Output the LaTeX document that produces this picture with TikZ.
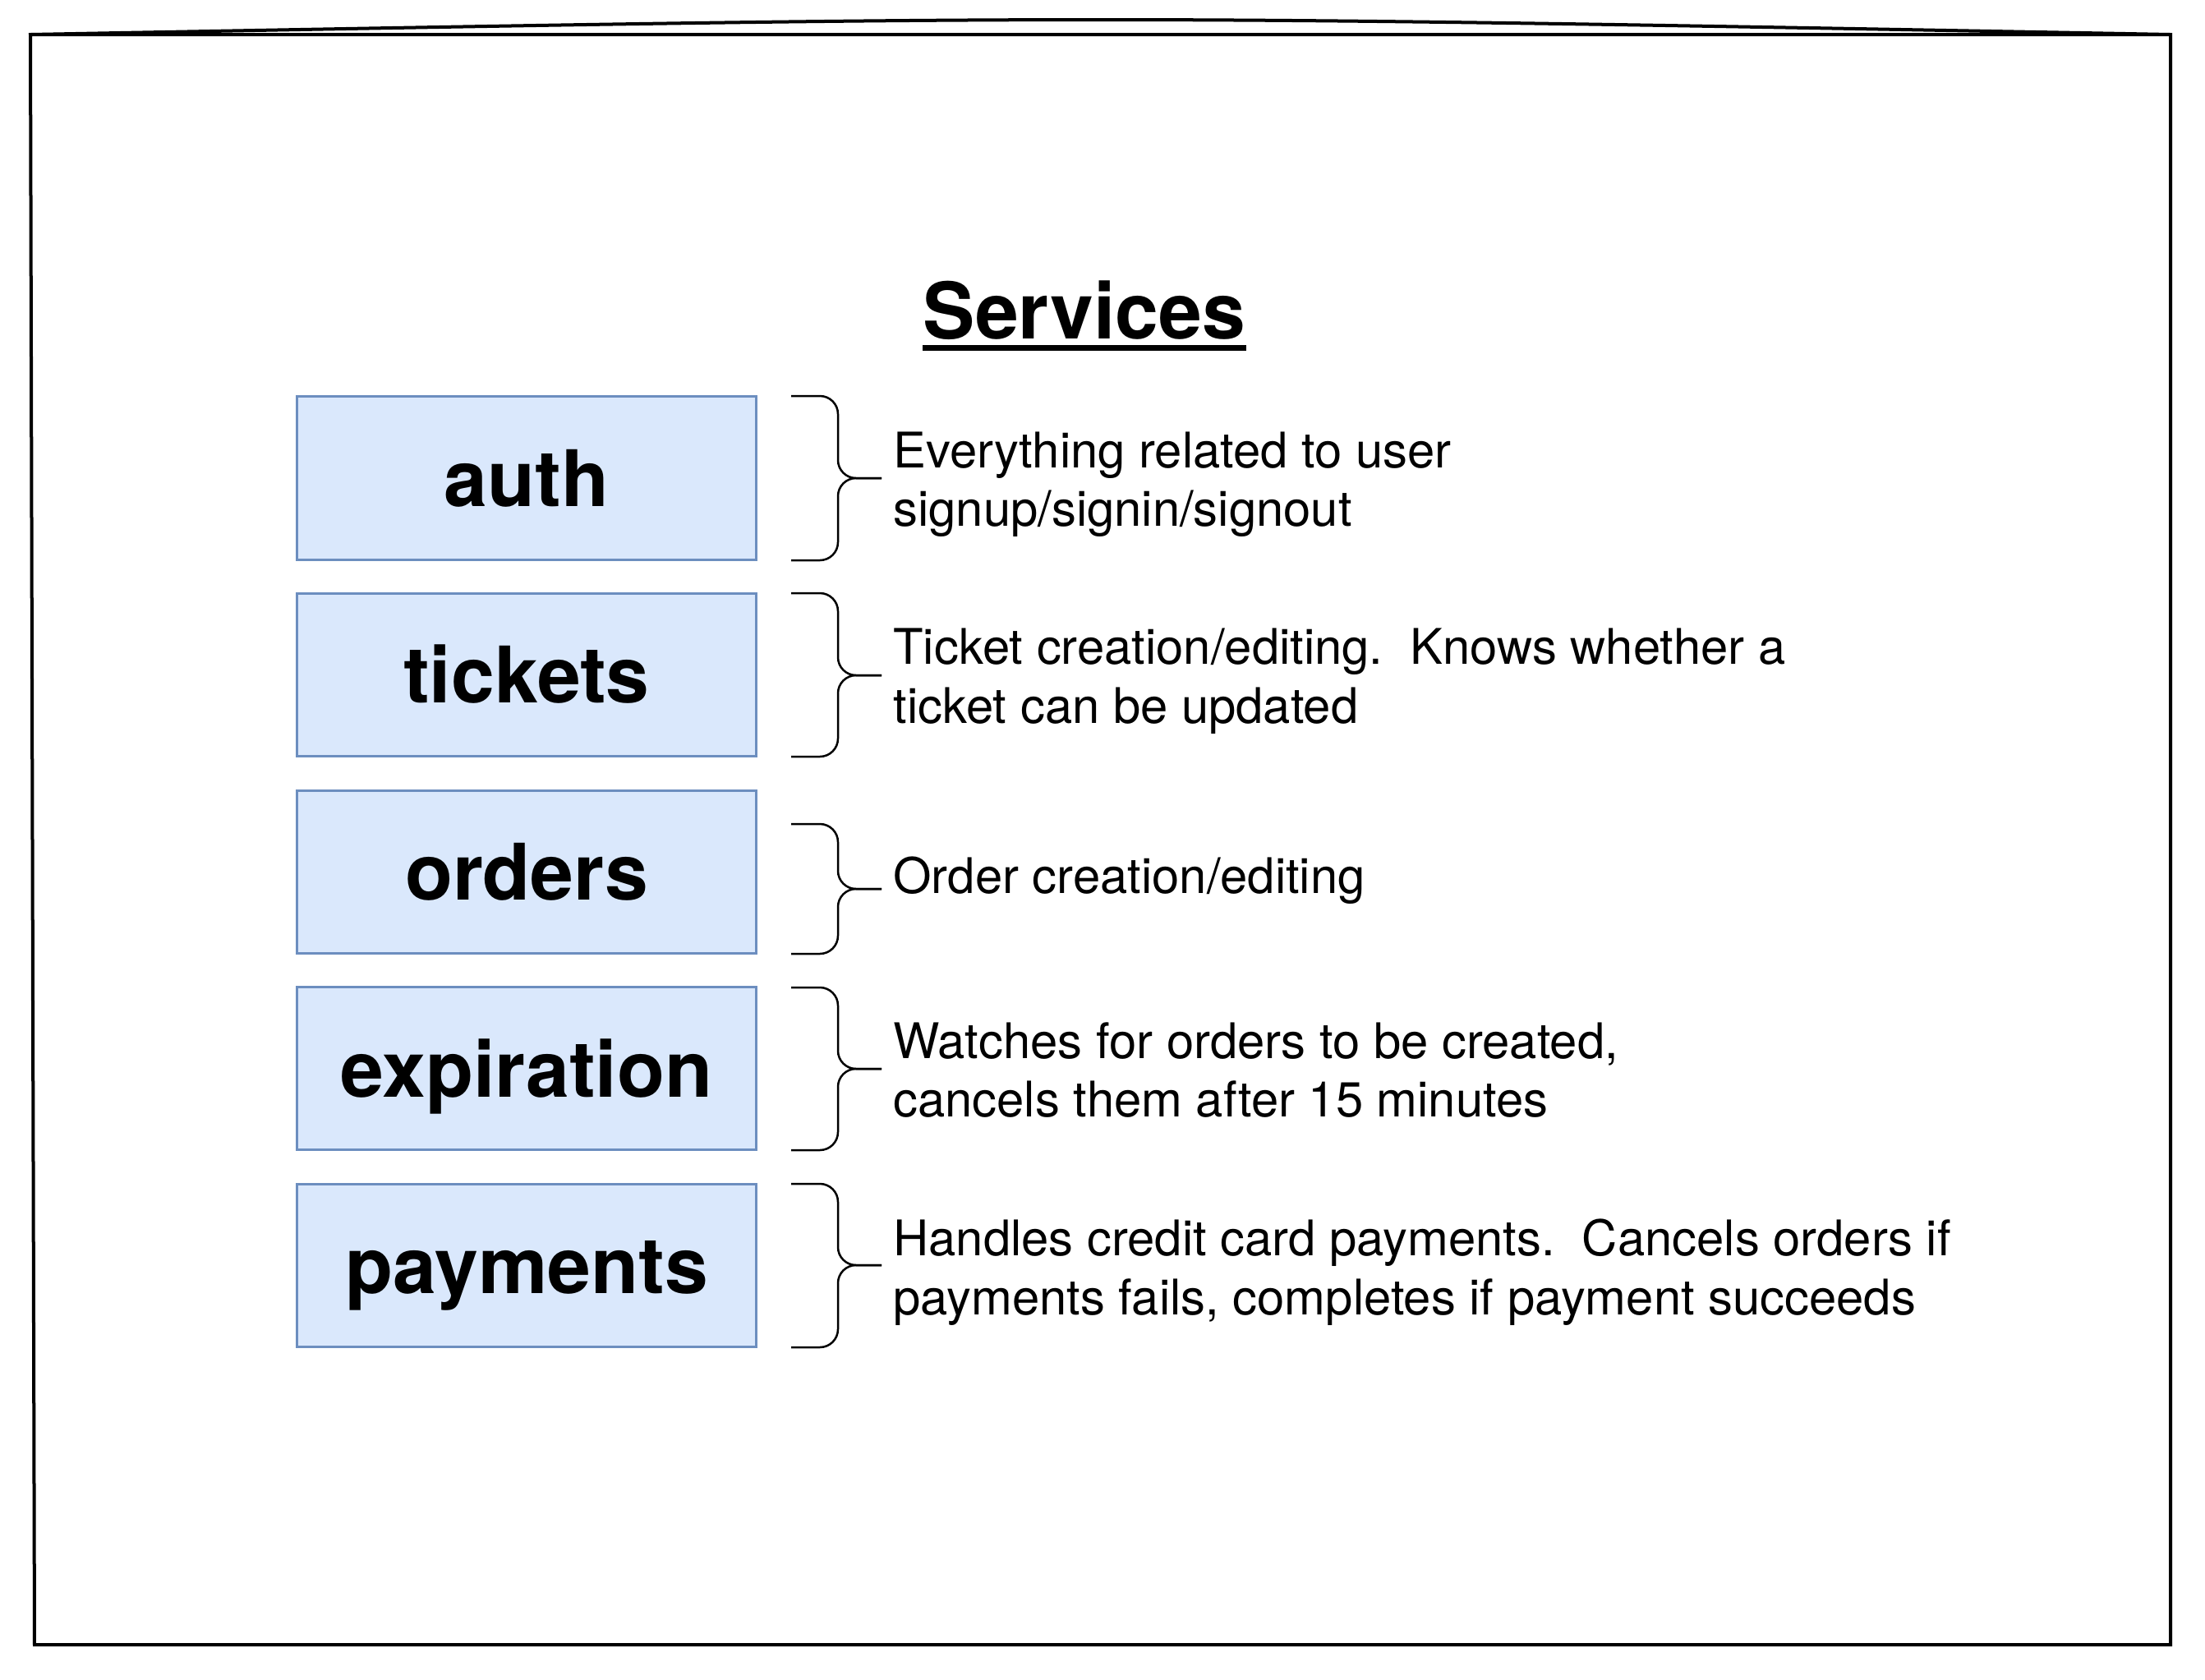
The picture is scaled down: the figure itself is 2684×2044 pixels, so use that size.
\documentclass[tikz,border=0pt]{standalone}
\usepackage{fontspec}
\setmainfont{TeX Gyre Heros}
\usetikzlibrary{positioning}
\definecolor{boxfill}{HTML}{DAE8FC}
\definecolor{boxline}{HTML}{6C8EBF}
\tikzstyle{service}=[draw=boxline,fill=boxfill,line width=0.03cm,minimum width=5.58cm,minimum height=1.98cm,font=\fontsize{27pt}{32pt}\selectfont\bfseries,text height=19.4pt,text depth=0pt]
\tikzstyle{desc}=[inner sep=0pt,yshift=-0.12cm,align=left,font=\fontsize{17pt}{20.4pt}\selectfont,execute at begin node=\strut,execute at end node=\strut]
\tikzstyle{brace}=[line width=0.025cm,rounded corners=0.22cm]
\tikzstyle{sketch}=[line width=0.04cm]
\newcommand{\drawbrace}[3]{
\pgfmathsetmacro{\btop}{#1}
\pgfmathsetmacro{\bbot}{#2}
\pgfmathsetmacro{\btip}{#3}
\draw[brace] (963,\btop) -- (1020,\btop) -- (1020,\btip) -- (1073,\btip);
\draw[brace] (1073,\btip) -- (1020,\btip) -- (1020,\bbot) -- (963,\bbot);
}

\begin{document}
\frenchspacing
\begin{tikzpicture}[x=0.01cm,y=-0.01cm,node distance=0.385cm]
  \useasboundingbox (0,0) rectangle (2684,2044);
  % hand drawn frame
  \draw[sketch] (37,42) -- (2642,42) -- (2642,2002) -- (42,2002) -- cycle;
  \draw[sketch] (37,42) .. controls (1340,18) .. (2642,42);
  % title
  \node[font=\fontsize{27pt}{32pt}\selectfont\bfseries,anchor=base,inner sep=0pt] (title) at (1320,412) {Services};
  \draw[line width=0.07cm] ([yshift=-0.115cm]title.base west) -- ([yshift=-0.115cm]title.base east);
  % services
  \node[service] (auth) at (641,582) {auth};
  \node[service,below=of auth] (tickets) {tickets};
  \node[service,below=of tickets] (orders) {orders};
  \node[service,below=of orders] (expiration) {expiration};
  \node[service,below=of expiration] (payments) {payments};
  \drawbrace{482}{682}{582}
  \drawbrace{722}{921}{822}
  \drawbrace{1003}{1161}{1082}
  \drawbrace{1202}{1400}{1301}
  \drawbrace{1441}{1640}{1540}
  \node[desc,right=1.65cm of auth] (authdesc) {Everything related to user\\signup/signin/signout};
  \node[desc,right=1.65cm of tickets] (ticketsdesc) {Ticket creation/editing.\ \ Knows whether a\\ticket can be updated};
  \node[desc,right=1.65cm of orders] (ordersdesc) {Order creation/editing};
  \node[desc,right=1.65cm of expiration] (expirationdesc) {Watches for orders to be created,\\cancels them after 15 minutes};
  \node[desc,right=1.65cm of payments] (paymentsdesc) {Handles credit card payments.\ \ Cancels orders if\\payments fails, completes if payment succeeds};
\end{tikzpicture}
\end{document}
